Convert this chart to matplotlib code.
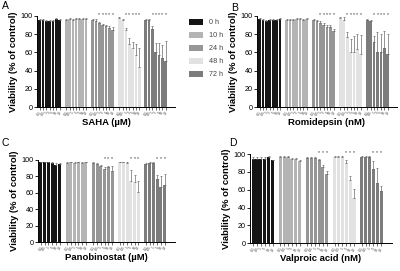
import numpy as np
import matplotlib
matplotlib.use('Agg')
import matplotlib.pyplot as plt
from matplotlib.patches import Patch

plt.rcParams['font.family'] = ['Liberation Sans', 'DejaVu Sans']

times = ['0 h', '10 h', '24 h', '48 h', '72 h']
colors = ['#151515', '#b4b4b4', '#969696', '#e2e2e2', '#7c7c7c']

# conc labels (tiny, rotated under each bar)
conc7 = ['0.1', '0.5', '1', '2', '5', '10', '20']
conc6 = ['0.1', '0.5', '1', '5', '10', '20']

# Panel A - SAHA
sahaMean = [[96, 96, 95, 95, 95, 97, 96],
            [96, 97, 96, 97, 97, 97, 97],
            [96, 95, 92, 90, 89, 87, 85],
            [98, 96, 85, 69, 65, 57, 44],
            [96, 96, 86, 61, 57, 54, 51]]
sahaErr = [[1, 1, 1, 1, 1, 1, 1],
           [1, 1, 1, 1, 1, 1, 1],
           [1, 2, 1, 1, 1, 2, 3],
           [1, 1, 2, 7, 6, 12, 21],
           [1, 1, 3, 9, 13, 14, 22]]
sahaStars = [[], [], [2, 3, 4, 5, 6], [2, 3, 4, 5, 6], [2, 3, 4, 5, 6]]

# Panel B - Romidepsin
romiMean = [[97, 96, 95, 96, 96, 96, 97],
            [96, 96, 96, 97, 97, 96, 97],
            [96, 95, 92, 90, 88, 88, 83],
            [98, 96, 77, 61, 60, 64, 58],
            [96, 95, 71, 60, 60, 65, 58]]
romiErr = [[1, 1, 1, 1, 1, 1, 1],
           [1, 1, 1, 1, 1, 1, 1],
           [1, 1, 2, 2, 2, 2, 3],
           [1, 3, 5, 14, 18, 16, 21],
           [1, 1, 7, 22, 20, 18, 22]]
romiStars = [[], [], [2, 3, 4, 5, 6], [2, 3, 4, 5, 6], [2, 3, 4, 5, 6]]

# Panel C - Panobinostat
panoMean = [[97, 97, 97, 96, 94, 95],
            [96, 97, 96, 97, 96, 97],
            [96, 95, 93, 89, 91, 87],
            [97, 97, 96, 74, 73, 61],
            [95, 96, 96, 77, 67, 70]]
panoErr = [[1, 1, 1, 1, 2, 1],
           [1, 1, 1, 1, 1, 1],
           [1, 1, 1, 2, 2, 5],
           [1, 1, 1, 14, 9, 13],
           [1, 1, 1, 4, 13, 13]]
panoStars = [[], [], [3, 4, 5], [3, 4, 5], [3, 4, 5]]

# Panel D - Valproic acid
valpMean = [[95, 95, 95, 95, 97, 93],
            [97, 97, 97, 95, 95, 92],
            [96, 96, 96, 94, 86, 78],
            [97, 97, 97, 90, 71, 51],
            [97, 97, 97, 83, 68, 59]]
valpErr = [[2, 2, 2, 2, 1, 1],
           [1, 1, 1, 1, 1, 1],
           [1, 1, 1, 1, 2, 3],
           [1, 1, 1, 3, 4, 10],
           [1, 1, 1, 9, 16, 5]]
valpStars = [[], [], [3, 4, 5], [3, 4, 5], [3, 4, 5]]

fig = plt.figure(figsize=(4, 2.71), dpi=100)


def panel(rect, mean, err, stars, conc, xlabel, letter, lpos):
    ax = fig.add_axes(rect)
    n = len(conc)
    xs_all = []
    for g in range(5):
        xs = g * (n + 1) + np.arange(n)
        m = np.array(mean[g])
        e = np.array(err[g])
        ax.bar(xs, m, width=0.8, color=colors[g], edgecolor='none')
        ax.errorbar(xs, m, yerr=[np.zeros(n), e], fmt='none',
                    ecolor='#6a6a6a', elinewidth=0.5, capsize=0.8, capthick=0.5)
        for i in stars[g]:
            ax.text(xs[i], 99, '*', ha='center', va='bottom', fontsize=3.8,
                    color='#333333', clip_on=False)
        xs_all.extend(xs)
    ax.set_xlim(-0.8, 5 * (n + 1) + 0.8)
    ax.set_ylim(0, 100)
    ax.set_yticks([0, 20, 40, 60, 80, 100])
    ax.tick_params(axis='y', labelsize=5.2, length=2, width=0.6, pad=1)
    ax.set_xticks(xs_all)
    ax.set_xticklabels(conc * 5, rotation=60, fontsize=2.6, color='#444444')
    ax.tick_params(axis='x', length=2, width=0.4, pad=0.5)
    for s in ['top', 'right']:
        ax.spines[s].set_visible(False)
    for s in ['left', 'bottom']:
        ax.spines[s].set_linewidth(0.7)
    ax.set_ylabel('Viability (% of control)', fontsize=6.8, fontweight='bold', labelpad=2)
    ax.set_xlabel(xlabel, fontsize=6.8, fontweight='bold', labelpad=1)
    fig.text(lpos[0], lpos[1], letter, fontsize=7.5, ha='left', va='top')
    return ax


panel([0.0925, 0.605, 0.345, 0.336], sahaMean, sahaErr, sahaStars, conc7,
      'SAHA (\u00b5M)', 'A', (0.005, 0.995))
panel([0.6425, 0.605, 0.35, 0.336], romiMean, romiErr, romiStars, conc7,
      'Romidepsin (nM)', 'B', (0.578, 0.99))
panel([0.095, 0.107, 0.3425, 0.303], panoMean, panoErr, panoStars, conc6,
      'Panobinostat (\u00b5M)', 'C', (0.005, 0.49))
panel([0.625, 0.103, 0.355, 0.328], valpMean, valpErr, valpStars, conc6,
      'Valproic acid (nM)', 'D', (0.573, 0.49))

handles = [Patch(facecolor=c, edgecolor='none') for c in colors]
fig.legend(handles, times, loc='upper left', bbox_to_anchor=(0.472, 0.93),
           frameon=False, fontsize=5.2, handlelength=2.0, handleheight=0.9,
           labelspacing=0.75, handletextpad=0.8, labelcolor='#444444',
           borderaxespad=0, borderpad=0)

fig.savefig('out.png', dpi=100)
